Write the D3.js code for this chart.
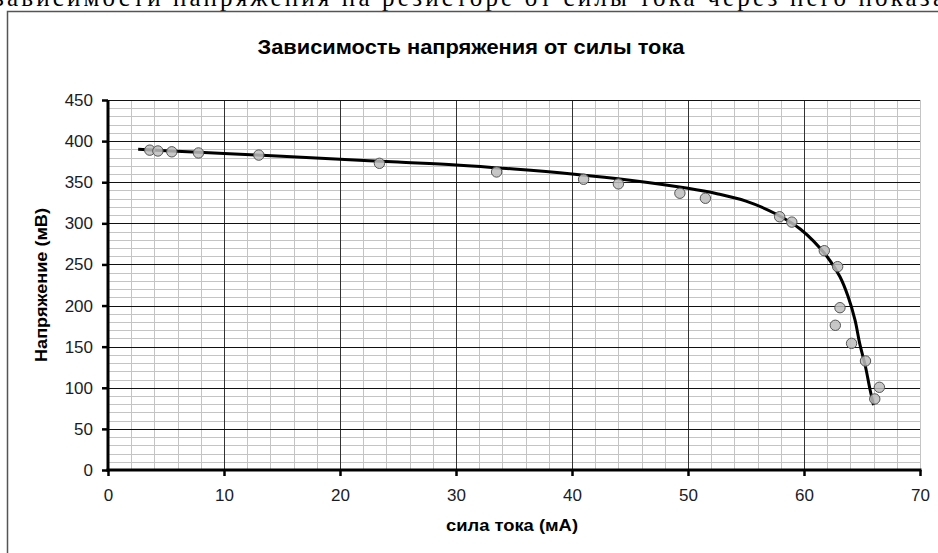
<!DOCTYPE html>
<html><head><meta charset="utf-8">
<script src="https://cdn.jsdelivr.net/npm/d3@7"></script>
<style>html,body{margin:0;padding:0;background:#fff;overflow:hidden}</style>
</head><body>
<script>
// Data
const pointsI = [3.6,4.3,5.5,7.8,13.0,23.4,33.5,41.0,44.0,49.3,51.5,57.9,58.95,61.75,62.9,63.1,62.7,64.1,65.3,66.5,66.1];
const pointsU = [389,388,387,385.6,383,373,362.5,353.6,348,336.6,330.5,308,301.5,266.7,247.3,197.4,176,154,132.6,100.6,86.4];
const trendI = [2.6,5,10,15,20,25,30,35,40,45,50,52.5,55,57.5,59.7,62,63.1,63.8,64.4,64.8,65.3,65.7,66.0];
const trendU = [390,388.3,385,381.5,378,374.5,371,366,360,352.5,342.6,336,327,312,292.8,259.4,235,211,182.4,154,125.6,97.3,79];
const xTicks = [0,10,20,30,40,50,60,70];
const yTicks = [0,50,100,150,200,250,300,350,400,450];
const chartTitle = "Зависимость напряжения от силы тока";
const xTitle = "сила тока (мА)";
const yTitle = "Напряжение (мВ)";
const docLine = "зависимости напряжения на резисторе от силы тока  через него показа";

const W = 938, H = 553;
const L = 108, R = 920, T = 100, B = 470;
const svg = d3.select("body").append("svg").attr("width", W).attr("height", H);
const x = d3.scaleLinear().domain([0,70]).range([L,R]);
const y = d3.scaleLinear().domain([0,450]).range([B,T]);

// document text line clipped at top
svg.append("text").attr("x", -6).attr("y", 6)
  .attr("font-family","'Liberation Serif', 'Times New Roman', serif").attr("font-size", 25)
  .attr("textLength", 950).attr("lengthAdjust","spacing")
  .attr("fill","#000").text(docLine);

// chart frame
svg.append("path").attr("d", `M7.5,${H+5}V11.5H${W+5}`).attr("fill","none").attr("stroke","#555").attr("stroke-width",1.5);

// minor grid
const g = svg.append("g");
g.selectAll(".mx").data(d3.range(0,71,2).filter(v=>v%10!==0)).enter().append("line")
  .attr("x1",d=>Math.round(x(d))+0.5).attr("x2",d=>Math.round(x(d))+0.5).attr("y1",T).attr("y2",B)
  .attr("stroke","#c4c4c4").attr("stroke-width",1);
g.selectAll(".my").data(d3.range(0,451,10).filter(v=>v%50!==0)).enter().append("line")
  .attr("y1",d=>Math.round(y(d))+0.5).attr("y2",d=>Math.round(y(d))+0.5).attr("x1",L).attr("x2",R)
  .attr("stroke","#c4c4c4").attr("stroke-width",1);
// major grid
g.selectAll(".Mx").data(xTicks.slice(1)).enter().append("line")
  .attr("x1",d=>Math.round(x(d))+0.5).attr("x2",d=>Math.round(x(d))+0.5).attr("y1",T).attr("y2",B)
  .attr("stroke", d=> d===70 ? "#c4c4c4" : "#333").attr("stroke-width",1);
g.selectAll(".My").data(yTicks.slice(1)).enter().append("line")
  .attr("y1",d=>Math.round(y(d))+0.5).attr("y2",d=>Math.round(y(d))+0.5).attr("x1",L).attr("x2",R)
  .attr("stroke","#111").attr("stroke-width",1);

// axes
const font = "'Liberation Sans', Arial, sans-serif";
const xAxis = svg.append("g").attr("transform",`translate(0,${B})`)
  .call(d3.axisBottom(x).tickValues(xTicks).tickSize(6).tickPadding(13).tickFormat(d3.format("d")));
const yAxis = svg.append("g").attr("transform",`translate(${L},0)`)
  .call(d3.axisLeft(y).tickValues(yTicks).tickSize(6).tickPadding(9).tickFormat(d3.format("d")));
[xAxis,yAxis].forEach(a=>{
  a.selectAll(".tick line").attr("stroke","#000").attr("stroke-width",2.5);
  a.selectAll(".tick text").attr("font-family",font).attr("font-size",17).attr("fill","#1b1b26");
});
xAxis.select(".domain").attr("stroke","#000").attr("stroke-width",3).attr("d",`M${L-1.5},0H${R+1.5}`);
yAxis.select(".domain").attr("stroke","#000").attr("stroke-width",3).attr("d",`M0,${T}V${B+1.5}`);

// trend line
svg.append("path").datum(d3.zip(trendI,trendU))
  .attr("d", d3.line().x(d=>x(d[0])).y(d=>y(d[1])).curve(d3.curveCatmullRom.alpha(0.5)))
  .attr("fill","none").attr("stroke","#000").attr("stroke-width",3).attr("stroke-linejoin","round");

// points
svg.append("g").selectAll("circle").data(d3.zip(pointsI,pointsU)).enter().append("circle")
  .attr("cx",d=>x(d[0])).attr("cy",d=>y(d[1])).attr("r",5.2)
  .attr("fill","#bdbdbd").attr("fill-opacity",0.85).attr("stroke","#555").attr("stroke-width",1);

// titles
svg.append("text").attr("x",471).attr("y",54).attr("text-anchor","middle")
  .attr("font-family",font).attr("font-weight","bold").attr("font-size",20)
  .attr("textLength",427).attr("lengthAdjust","spacingAndGlyphs").attr("fill","#000").text(chartTitle);
svg.append("text").attr("x",512).attr("y",531).attr("text-anchor","middle")
  .attr("font-family",font).attr("font-weight","bold").attr("font-size",17)
  .attr("textLength",132).attr("lengthAdjust","spacingAndGlyphs").attr("fill","#000").text(xTitle);
svg.append("text").attr("transform","translate(47,285) rotate(-90)").attr("text-anchor","middle")
  .attr("font-family",font).attr("font-weight","bold").attr("font-size",17)
  .attr("textLength",154).attr("lengthAdjust","spacingAndGlyphs").attr("fill","#000").text(yTitle);
</script>
</body></html>
